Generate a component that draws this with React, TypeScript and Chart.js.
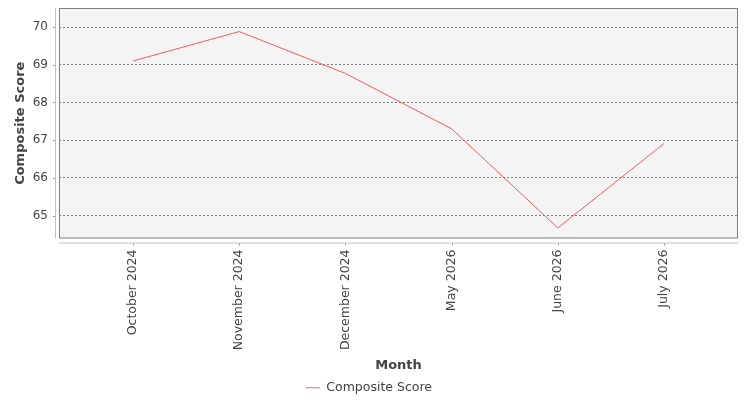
import { Chart, registerables } from "chart.js";
import { useEffect, useRef } from "react";

Chart.register(...registerables);

const months = ["October 2024", "November 2024", "December 2024", "May 2026", "June 2026", "July 2026"];
const compositeScore = [69.1, 69.88, 68.77, 67.3, 64.67, 66.91];
const yTicks = [65, 66, 67, 68, 69, 70];

const FONT = "'DejaVu Sans', sans-serif";
const TEXT = "#444444";

// plot background, frame, offset axis lines and little tick marks (JFreeChart look)
const plotFrame = {
  id: "plotFrame",
  beforeDraw(chart: Chart) {
    const { ctx, chartArea: a } = chart;
    ctx.save();
    ctx.fillStyle = "#f4f4f4";
    ctx.fillRect(a.left, a.top, a.right - a.left, a.bottom - a.top);
    ctx.restore();
  },
  afterDraw(chart: Chart) {
    const { ctx, chartArea: a } = chart;
    const x = chart.scales.x;
    const y = chart.scales.y;
    ctx.save();
    ctx.strokeStyle = "#808080";
    ctx.lineWidth = 1;
    ctx.strokeRect(a.left + 0.5, a.top + 0.5, a.right - a.left - 1, a.bottom - a.top - 1);
    ctx.strokeStyle = "#c0c0c0";
    ctx.beginPath();
    ctx.moveTo(a.left - 3.5, a.top);
    ctx.lineTo(a.left - 3.5, a.bottom);
    ctx.moveTo(a.left, a.bottom + 4.5);
    ctx.lineTo(a.right, a.bottom + 4.5);
    ctx.stroke();
    ctx.strokeStyle = "#999999";
    ctx.beginPath();
    yTicks.forEach((v) => {
      const py = Math.round(y.getPixelForValue(v)) + 0.5;
      ctx.moveTo(a.left - 6, py);
      ctx.lineTo(a.left - 4, py);
    });
    months.forEach((_, i) => {
      const px = Math.round(x.getPixelForValue(i)) + 0.5;
      ctx.moveTo(px, a.bottom + 5);
      ctx.lineTo(px, a.bottom + 7);
    });
    ctx.stroke();
    ctx.restore();
  },
};

export default function App() {
  const canvasRef = useRef<HTMLCanvasElement | null>(null);

  useEffect(() => {
    if (!canvasRef.current) return;
    const chart = new Chart(canvasRef.current, {
      type: "line",
      data: {
        datasets: [
          {
            label: "Composite Score",
            data: compositeScore.map((v, i) => ({ x: i, y: v })),
            borderColor: "#ff5b5b",
            backgroundColor: "#ff5b5b",
            borderWidth: 1,
            pointRadius: 0,
            pointStyle: "line",
            tension: 0,
          },
        ],
      },
      options: {
        responsive: false,
        animation: false,
        layout: { padding: { top: 8, right: 12, left: 0, bottom: -4 } },
        plugins: {
          legend: {
            position: "bottom",
            labels: {
              usePointStyle: true,
              pointStyleWidth: 14,
              color: TEXT,
              font: { family: FONT, size: 12.5 },
              padding: 0,
            },
          },
          tooltip: { enabled: false },
        },
        scales: {
          x: {
            type: "linear",
            min: -0.697,
            max: 5.697,
            afterBuildTicks: (s: any) => {
              s.ticks = months.map((_, i) => ({ value: i }));
            },
            afterFit: (s: any) => {
              s.height = 143;
              s.paddingLeft = 0;
              s.paddingRight = 0;
            },
            grid: { display: false, drawTicks: false },
            border: { display: false },
            ticks: {
              autoSkip: false,
              minRotation: 90,
              maxRotation: 90,
              padding: 11,
              color: TEXT,
              font: { family: FONT, size: 12.5 },
              callback: (v: any) => months[v] ?? "",
            },
            title: {
              display: true,
              text: "Month",
              color: TEXT,
              font: { family: FONT, size: 13, weight: "bold" },
              padding: { top: 0, bottom: 8 },
            },
          },
          y: {
            min: 64.39,
            max: 70.505,
            afterBuildTicks: (s: any) => {
              s.ticks = yTicks.map((v) => ({ value: v }));
            },
            afterFit: (s: any) => {
              s.width = 59;
              s.paddingTop = 0;
              s.paddingBottom = 0;
            },
            grid: { color: "#808080", lineWidth: 1, drawTicks: false },
            border: { display: false, dash: [2, 2] },
            ticks: {
              padding: 11,
              color: TEXT,
              font: { family: FONT, size: 12 },
            },
            title: {
              display: true,
              text: "Composite Score",
              color: TEXT,
              font: { family: FONT, size: 13, weight: "bold" },
              padding: { top: 13, bottom: 0 },
            },
          },
        },
      },
      plugins: [plotFrame],
    });
    return () => chart.destroy();
  }, []);

  return (
    <div style={{ position: "fixed", left: 0, top: 0, width: 750, height: 400, background: "#fff" }}>
      <canvas ref={canvasRef} width={750} height={400} />
    </div>
  );
}
